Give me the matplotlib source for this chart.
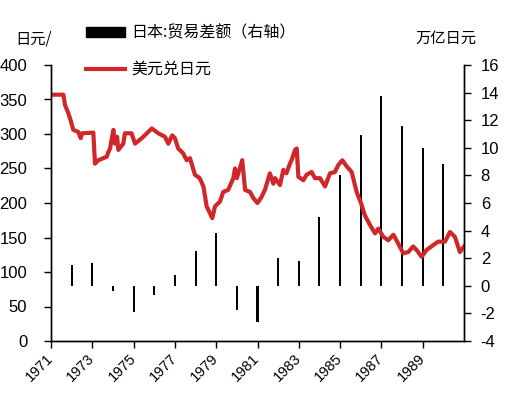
import matplotlib
matplotlib.use("Agg")
import matplotlib.pyplot as plt
from matplotlib.patches import Rectangle
from matplotlib.lines import Line2D

plt.rcParams['font.family'] = ['Liberation Sans', 'Noto Sans CJK SC', 'DejaVu Sans']
plt.rcParams['axes.unicode_minus'] = False

# Trade balance (trillion yen), right axis
trade_years = [1972, 1973, 1974, 1975, 1976, 1977, 1978, 1979, 1980, 1981,
               1982, 1983, 1984, 1985, 1986, 1987, 1988, 1989, 1990]
trade_vals = [1.5, 1.65, -0.4, -1.9, -0.65, 0.8, 2.55, 3.85, -1.75, -2.65,
              2.05, 1.8, 4.95, 8.0, 10.9, 13.75, 11.6, 10.0, 8.85]

# USD/JPY exchange rate, left axis
fx_t = [1971.0, 1971.6, 1971.68, 1971.84, 1971.97, 1972.08, 1972.32, 1972.44, 1972.5, 1973.05,
        1973.13, 1973.29, 1973.7, 1973.78, 1973.86, 1974.02, 1974.1, 1974.2, 1974.26, 1974.5,
        1974.58, 1974.9, 1975.07, 1975.4, 1975.88, 1976.2, 1976.52, 1976.68, 1976.87, 1977.0,
        1977.16, 1977.4, 1977.57, 1977.73, 1977.97, 1978.2, 1978.38, 1978.54, 1978.7, 1978.81,
        1978.94, 1979.18, 1979.34, 1979.58, 1979.83, 1979.91, 1980.0, 1980.26, 1980.4, 1980.64,
        1980.8, 1981.0, 1981.2, 1981.36, 1981.6, 1981.77, 1981.85, 1982.09, 1982.25, 1982.4,
        1982.57, 1982.65, 1982.82, 1982.9, 1982.98, 1983.22, 1983.38, 1983.62, 1983.78, 1984.03,
        1984.27, 1984.51, 1984.75, 1984.91, 1985.11, 1985.32, 1985.56, 1985.8, 1986.01, 1986.2,
        1986.45, 1986.69, 1986.85, 1987.09, 1987.33, 1987.58, 1987.82, 1988.06, 1988.3, 1988.54,
        1988.7, 1988.95, 1989.19, 1989.51, 1989.75, 1990.08, 1990.32, 1990.56, 1990.8, 1991.0]
fx_v = [357, 357, 342, 330, 318, 306, 303, 294, 301, 302,
        257, 262, 267, 274, 279, 306, 286, 296, 277, 286,
        301, 301, 286, 294, 308, 301, 296, 286, 298, 294,
        279, 272, 262, 265, 241, 236, 224, 195, 185, 178,
        195, 202, 216, 219, 236, 250, 236, 262, 219, 216,
        207, 200, 209, 219, 243, 228, 236, 226, 248, 243,
        257, 262, 277, 279, 238, 233, 241, 245, 236, 236,
        224, 243, 245, 255, 262, 253, 245, 216, 200, 182,
        168, 156, 163, 151, 146, 154, 141, 127, 129, 137,
        132, 122, 132, 139, 144, 144, 158, 151, 129, 137]

xtick_years = list(range(1971, 1990, 2))
left_ticks = list(range(0, 401, 50))
right_ticks = list(range(-4, 17, 2))

RED = '#D0282A'

fig = plt.figure(figsize=(5.07, 3.99), dpi=100)
axL = fig.add_axes([51/507, 58/399, 413/507, 276/399])
axR = axL.twinx()
axL.set_zorder(axR.get_zorder() + 1)
axL.patch.set_visible(False)

axR.bar(trade_years, trade_vals, width=0.1, color='black', linewidth=0)
axL.plot(fx_t, fx_v, color=RED, linewidth=3.0, solid_joinstyle='round')

axL.set_xlim(1971, 1991)
axL.set_ylim(0, 400)
axR.set_ylim(-4, 16)
axL.set_yticks(left_ticks)
axR.set_yticks(right_ticks)
axL.set_xticks(xtick_years)
axL.set_xticklabels([str(y) for y in xtick_years], rotation=45, ha='right',
                    va='center', rotation_mode='anchor')

for ax in (axL, axR):
    ax.spines['top'].set_visible(False)
    for s in ax.spines.values():
        s.set_linewidth(1.0)
        s.set_color('black')
axL.tick_params(axis='y', direction='out', length=5, width=1, labelsize=12, pad=12)
axR.tick_params(axis='y', direction='out', length=5, width=1, labelsize=12, pad=7)
axL.tick_params(axis='x', direction='out', length=5, width=1, labelsize=10.5, pad=6)

# Legend & unit labels
fig.patches.append(Rectangle((86/507, (399-37)/399), 39/507, 10/399,
                             transform=fig.transFigure, color='black'))
fig.lines.append(Line2D([86/507, 125/507], [(399-68.5)/399]*2, transform=fig.transFigure,
                        color=RED, linewidth=3.0))
cjk = ['Noto Sans CJK SC', 'DejaVu Sans']
fig.text(131/507, (399-32.5)/399, '日本:贸易差额（右轴）', family=cjk, fontsize=11.5,
         ha='left', va='center')
fig.text(131/507, (399-69)/399, '美元兑日元', family=cjk, fontsize=11.5,
         ha='left', va='center')
fig.text(15/507, (399-39)/399, '日元/', family=cjk, fontsize=11, ha='left', va='center')
fig.text(476/507, (399-38)/399, '万亿日元', family=cjk, fontsize=11, ha='right', va='center')

fig.savefig('out.png', dpi=100)
